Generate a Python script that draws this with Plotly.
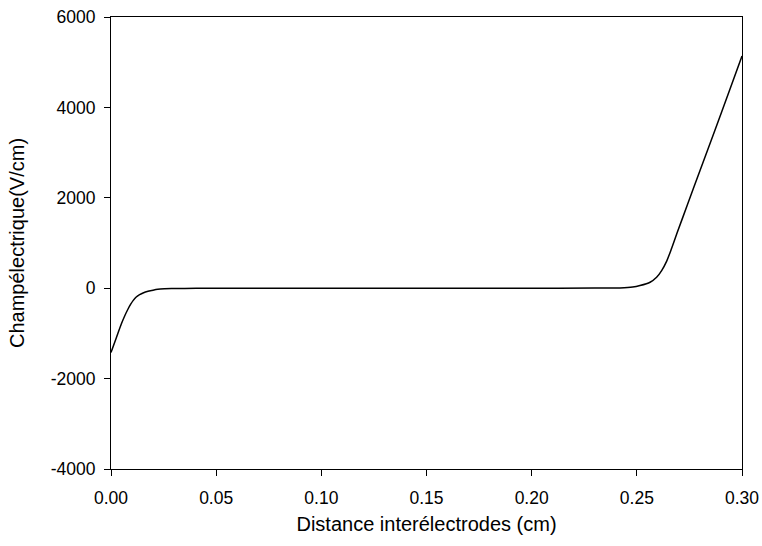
import plotly.graph_objects as go

# Distance (cm) and electric field (V/cm)
distance = [0, 0.0025, 0.0049, 0.0065, 0.0081, 0.0093, 0.0105, 0.012, 0.0136, 0.0155, 0.0176,
            0.020, 0.0223, 0.0255, 0.0287, 0.035, 0.045, 0.06, 0.1, 0.15, 0.2, 0.23,
            0.242, 0.248, 0.2515, 0.2563, 0.2594, 0.2618, 0.2642, 0.2666, 0.2692,
            0.274, 0.280, 0.287, 0.294, 0.30]
champ = [-1420, -1100, -792, -615, -460, -360, -275, -195, -142, -100, -69,
         -43, -24, -14, -9, -4, -1, 0, 0, 0, 0, 2,
         7, 25, 58, 131, 242, 390, 600, 890, 1230,
         1840, 2600, 3480, 4370, 5135]

x_ticks = [0.00, 0.05, 0.10, 0.15, 0.20, 0.25, 0.30]
x_tick_labels = ["0.00", "0.05", "0.10", "0.15", "0.20", "0.25", "0.30"]
y_ticks = [-4000, -2000, 0, 2000, 4000, 6000]
y_tick_labels = ["-4000", "-2000", "0", "2000", "4000", "6000"]

fig = go.Figure(go.Scatter(x=distance, y=champ, mode="lines",
                           line=dict(color="black", width=1.5, shape="spline", smoothing=0.8)))

fig.update_layout(
    width=762, height=546,
    margin=dict(l=111, r=20, t=17, b=77),
    paper_bgcolor="white", plot_bgcolor="white",
    font=dict(family="Liberation Sans, Arial, sans-serif", size=17.5, color="black"),
    showlegend=False,
)
fig.update_xaxes(
    range=[0, 0.30], tickvals=x_ticks, ticktext=x_tick_labels, automargin=False,
    showline=True, linecolor="black", linewidth=1, mirror=True,
    ticks="outside", ticklen=6, tickcolor="black", showgrid=False, zeroline=False,
    ticklabelstandoff=7, ticklabeloverflow="allow",
    title=dict(text="Distance interélectrodes (cm)", font=dict(size=20), standoff=9),
)
fig.update_yaxes(
    range=[-4000, 6000], tickvals=y_ticks, ticktext=y_tick_labels, automargin=False,
    showline=True, linecolor="black", linewidth=1, mirror=True,
    ticks="outside", ticklen=6, tickcolor="black", showgrid=False, zeroline=False,
    ticklabelstandoff=5, ticklabeloverflow="allow",
    title=dict(text="Champélectrique(V/cm)", font=dict(size=20), standoff=20),
)

fig.write_html("out.html", config={"displayModeBar": False},
               post_script="document.body.style.margin='0';document.body.style.overflow='hidden';")
